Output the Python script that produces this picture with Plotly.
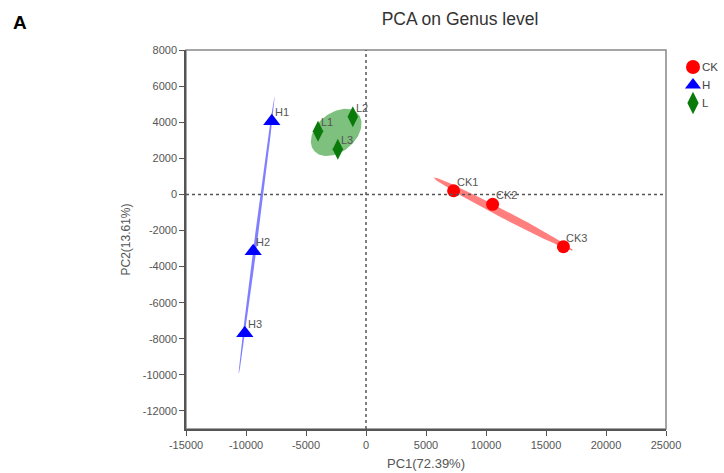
import numpy as np
import plotly.graph_objects as go

# Sample scores on the first two principal components
groups = ["CK", "H", "L"]
samples = {
    "CK": ["CK1", "CK2", "CK3"],
    "H": ["H1", "H2", "H3"],
    "L": ["L1", "L2", "L3"],
}
pc1 = {
    "CK": [7300, 10550, 16450],
    "H": [-7850, -9400, -10100],
    "L": [-4000, -1100, -2350],
}
pc2 = {
    "CK": [200, -550, -2900],
    "H": [4050, -3150, -7700],
    "L": [3500, 4300, 2500],
}

x_ticks = [-15000, -10000, -5000, 0, 5000, 10000, 15000, 20000, 25000]
y_ticks = [8000, 6000, 4000, 2000, 0, -2000, -4000, -6000, -8000, -10000, -12000]

marker_color = {"CK": "#ff0000", "H": "#0000ff", "L": "#0a7a0a"}
fill_color = {"CK": "rgba(255,0,0,0.5)", "H": "rgba(0,0,255,0.5)", "L": "rgba(20,140,20,0.55)"}
symbols = {"CK": "circle", "H": "triangle-up", "L": "diamond-tall"}
sizes = {"CK": 13, "H": 15, "L": 15}
ellipse_scale = {"CK": 1.25, "H": 1.3, "L": 1.45}

FONT = "Liberation Sans, Arial"
GREY = "#555555"

# geometry (pixels) of the figure
W, H = 724, 473
L_M, T_M, B_M = 186, 50, 44
PLOT_RIGHT = 666
paper_w = W - L_M
plot_h = H - T_M - B_M
x_dom_end = (PLOT_RIGHT - L_M) / paper_w


def group_ellipse(xs, ys, k=1.25, n=120):
    """Covariance ellipse around a group of points."""
    pts = np.column_stack([xs, ys]).astype(float)
    center = pts.mean(axis=0)
    cov = np.cov(pts, rowvar=False)
    vals, vecs = np.linalg.eigh(cov)
    vals = np.clip(vals, 0, None)
    t = np.linspace(0, 2 * np.pi, n)
    circle = np.vstack([np.cos(t), np.sin(t)])
    ell = vecs @ (k * np.sqrt(vals)[:, None] * circle)
    return center[0] + ell[0], center[1] + ell[1]


fig = go.Figure()

for g in groups:
    ex, ey = group_ellipse(pc1[g], pc2[g], k=ellipse_scale[g])
    fig.add_trace(go.Scatter(
        x=ex, y=ey, mode="lines", fill="toself",
        fillcolor=fill_color[g], line=dict(width=0),
        hoverinfo="skip", showlegend=False,
    ))

for g in groups:
    fig.add_trace(go.Scatter(
        x=pc1[g], y=pc2[g], mode="markers", name=g,
        marker=dict(symbol=symbols[g], size=sizes[g], color=marker_color[g],
                    line=dict(width=0)),
        showlegend=False,
    ))
    for name, xv, yv in zip(samples[g], pc1[g], pc2[g]):
        fig.add_annotation(x=xv, y=yv, xref="x", yref="y", text=name,
                           xanchor="left", yanchor="middle", xshift=1, yshift=9,
                           showarrow=False,
                           font=dict(family=FONT, size=11, color=GREY))

# Group key drawn on a small auxiliary axis to the right of the plot
key_x = [27, 27, 27]
key_y = [H - B_M - 67, H - B_M - 85, H - B_M - 103]
for g, kx, ky in zip(groups, key_x, key_y):
    fig.add_trace(go.Scatter(
        x=[kx], y=[ky], xaxis="x2", yaxis="y2", mode="markers",
        marker=dict(symbol=symbols[g], size=14 if g != "L" else 16,
                    color=marker_color[g], line=dict(width=0)),
        hoverinfo="skip", showlegend=False,
    ))
    fig.add_annotation(x=kx + 7, y=ky, xref="x2", yref="y2", text=g,
                       xanchor="left", yanchor="middle", showarrow=False,
                       font=dict(family=FONT, size=11.5, color="#444444"))

axis_font = dict(family=FONT, size=11, color=GREY)

fig.update_layout(
    xaxis=dict(
        domain=[0, x_dom_end],
        range=[-15000, 25000], tickvals=x_ticks, ticktext=[str(v) for v in x_ticks],
        ticks="outside", ticklen=5, tickcolor=GREY, tickwidth=1,
        showline=True, linecolor=GREY, linewidth=1.5,
        showgrid=False, zeroline=False, tickfont=axis_font,
        title=dict(text="PC1(72.39%)", font=dict(family=FONT, size=13, color=GREY), standoff=9),
    ),
    yaxis=dict(
        range=[-13000, 8000], tickvals=y_ticks, ticktext=[str(v) for v in y_ticks],
        ticks="outside", ticklen=5, tickcolor=GREY, tickwidth=1,
        showline=True, linecolor=GREY, linewidth=1.5,
        showgrid=False, zeroline=False, tickfont=axis_font,
        title=dict(text="PC2(13.61%)", font=dict(family=FONT, size=12, color=GREY), standoff=10),
    ),
    xaxis2=dict(domain=[x_dom_end, 1], range=[0, W - PLOT_RIGHT], visible=False,
                fixedrange=True),
    yaxis2=dict(anchor="x2", range=[0, plot_h], visible=False, fixedrange=True),
)

# Frame on top/right and dotted reference lines through the origin
fig.add_shape(type="rect", xref="paper", yref="paper", x0=0, x1=x_dom_end, y0=0, y1=1,
              line=dict(color="#888888", width=1.5), layer="below")
fig.add_shape(type="line", xref="x", yref="paper", x0=0, x1=0, y0=0, y1=1,
              line=dict(color=GREY, width=1.5, dash="dot"))
fig.add_shape(type="line", xref="x", yref="y", x0=-15000, x1=25000, y0=0, y1=0,
              line=dict(color=GREY, width=1.5, dash="dot"))

fig.add_annotation(text="<b>A</b>", xref="paper", yref="paper",
                   x=(11 - L_M) / paper_w, y=1 + (T_M - 10) / plot_h,
                   xanchor="left", yanchor="top", showarrow=False,
                   font=dict(family="Liberation Sans Narrow, Arial Narrow, Liberation Sans",
                             size=19, color="#000000"))

fig.update_layout(
    width=W, height=H,
    margin=dict(l=L_M, r=0, t=T_M, b=B_M, autoexpand=False),
    paper_bgcolor="white", plot_bgcolor="white",
    title=dict(text="PCA on Genus level", x=460 / W, xanchor="center",
               y=1 - 19 / H, yanchor="middle",
               font=dict(family=FONT, size=17.5, color="#333333")),
    showlegend=False,
)

fig.write_html("out.html")
